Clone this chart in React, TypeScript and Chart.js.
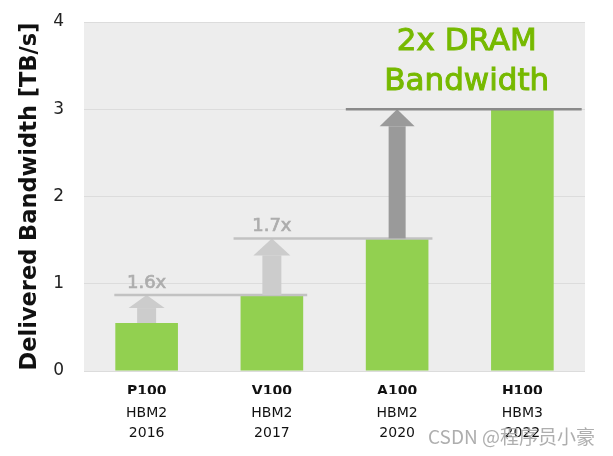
import { useEffect, useRef } from 'react';
import { Chart, registerables } from 'chart.js';

Chart.register(...registerables);

const categories = ['P100', 'V100', 'A100', 'H100'];
const memoryTypes = ['HBM2', 'HBM2', 'HBM2', 'HBM3'];
const years = ['2016', '2017', '2020', '2022'];
const bandwidth = [0.55, 0.87, 1.52, 3.0];
const stepLabels = [['1.6x'], ['1.7x'], ['2x DRAM', 'Bandwidth']];
const yTitle = 'Delivered Bandwidth [TB/s]';
const watermark = 'CSDN @程序员小豪';

const arrowColors = ['#cccccc', '#cccccc', '#9a9a9a'];
const lineColors = ['#c2c2c2', '#c2c2c2', '#8a8a8a'];
const lineExtLeft = [1, 7, 20];
const lineExtRight = [4, 4, 28];
const headHeights = [13, 17, 17];
const shaftWidths = [19, 19, 17];
const headWidths = [36, 37, 35];

const decorPlugin = {
  id: 'decor',
  beforeDraw(chart: any) {
    const { ctx, chartArea: a } = chart;
    ctx.save();
    ctx.fillStyle = '#ededed';
    ctx.fillRect(a.left, a.top, a.right - a.left, a.bottom - a.top);
    ctx.restore();
  },
  afterDatasetsDraw(chart: any) {
    const { ctx } = chart;
    const y = chart.scales.y;
    const bars = chart.getDatasetMeta(0).data as any[];
    ctx.save();
    for (let i = 0; i < bars.length - 1; i++) {
      const from = bars[i];
      const to = bars[i + 1];
      const yTop = y.getPixelForValue(bandwidth[i + 1]);
      const yBot = y.getPixelForValue(bandwidth[i]);
      const cx = from.x;
      const hh = headHeights[i];
      const sw = shaftWidths[i];
      const hw = headWidths[i];
      ctx.fillStyle = arrowColors[i];
      ctx.fillRect(cx - sw / 2, yTop + hh, sw, yBot - yTop - hh);
      ctx.beginPath();
      ctx.moveTo(cx, yTop);
      ctx.lineTo(cx + hw / 2, yTop + hh);
      ctx.lineTo(cx - hw / 2, yTop + hh);
      ctx.closePath();
      ctx.fill();
      const x0 = from.x - from.width / 2 - lineExtLeft[i];
      const x1 = to.x + to.width / 2 + lineExtRight[i];
      ctx.strokeStyle = lineColors[i];
      ctx.lineWidth = 2.5;
      ctx.beginPath();
      ctx.moveTo(x0, yTop);
      ctx.lineTo(x1, yTop);
      ctx.stroke();
      const lines = stepLabels[i];
      ctx.textAlign = 'center';
      ctx.textBaseline = 'alphabetic';
      if (lines.length === 1) {
        ctx.fillStyle = '#adadad';
        ctx.strokeStyle = '#adadad';
        ctx.lineWidth = 0.7;
        ctx.font = '18px "DejaVu Sans"';
        ctx.fillText(lines[0], cx, yTop - 7);
        ctx.strokeText(lines[0], cx, yTop - 7);
      } else {
        ctx.fillStyle = '#76b900';
        ctx.strokeStyle = '#76b900';
        ctx.lineWidth = 1;
        ctx.font = '31px "DejaVu Sans"';
        const mx = (x0 + x1) / 2 + 3;
        const n = lines.length;
        lines.forEach((t, k) => {
          const ty = yTop - 19 - (n - 1 - k) * 40;
          ctx.fillText(t, mx, ty);
          ctx.strokeText(t, mx, ty);
        });
      }
    }
    ctx.restore();
  },
  afterDraw(chart: any) {
    const { ctx } = chart;
    ctx.save();
    ctx.font = '19px "Noto Sans CJK SC"';
    ctx.textAlign = 'left';
    ctx.textBaseline = 'alphabetic';
    ctx.fillStyle = 'rgba(165,165,165,0.9)';
    ctx.fillText(watermark, 428, 444);
    ctx.restore();
  },
};

export default function App() {
  const ref = useRef<HTMLCanvasElement | null>(null);
  useEffect(() => {
    if (!ref.current) return;
    const chart = new Chart(ref.current, {
      type: 'bar',
      data: {
        labels: categories,
        datasets: [
          {
            data: bandwidth,
            backgroundColor: '#92d050',
            borderWidth: 0,
            barPercentage: 0.5,
            categoryPercentage: 1,
            xAxisID: 'x',
          },
        ],
      },
      options: {
        animation: false,
        responsive: true,
        maintainAspectRatio: false,
        layout: { padding: { top: 22, right: 28, left: 0, bottom: 15 } },
        plugins: { legend: { display: false }, tooltip: { enabled: false } },
        scales: {
          x: {
            type: 'category',
            position: 'bottom',
            offset: true,
            weight: 0,
            grid: { display: false, drawTicks: false },
            border: { display: false },
            ticks: {
              padding: 12,
              color: '#111',
              font: { family: 'DejaVu Sans', size: 14, weight: 'bold' },
              callback: (_v: any, i: number) => categories[i],
            },
            afterFit: (s: any) => {
              s.height = 23;
            },
          },
          x2: {
            type: 'category',
            position: 'bottom',
            labels: categories,
            offset: true,
            weight: 1,
            grid: { display: false, drawTicks: false },
            border: { display: false },
            ticks: {
              padding: 10,
              color: '#111',
              font: { family: 'DejaVu Sans', size: 14, lineHeight: 1.4 },
              callback: (_v: any, i: number) => [memoryTypes[i], years[i]],
            },
            afterFit: (s: any) => {
              s.height = 47;
            },
          },
          y: {
            min: 0,
            max: 4,
            ticks: {
              stepSize: 1,
              padding: 0,
              color: '#222',
              font: { family: 'DejaVu Sans', size: 17 },
            },
            grid: {
              color: '#dcdcdc',
              drawTicks: true,
              tickLength: 20,
              tickColor: 'rgba(0,0,0,0)',
              lineWidth: 1,
            },
            border: { display: false },
            title: {
              display: true,
              text: yTitle,
              color: '#111',
              padding: { top: 17, bottom: 0 },
              font: { family: 'DejaVu Sans', size: 22.5, weight: 'bold' },
            },
            afterFit: (s: any) => {
              s.width = 84;
            },
          },
        },
      } as any,
      plugins: [decorPlugin],
    });
    return () => chart.destroy();
  }, []);
  return (
    <div style={{ position: 'fixed', left: 0, top: 0, width: 613, height: 456, background: '#fff' }}>
      <canvas ref={ref} />
    </div>
  );
}
